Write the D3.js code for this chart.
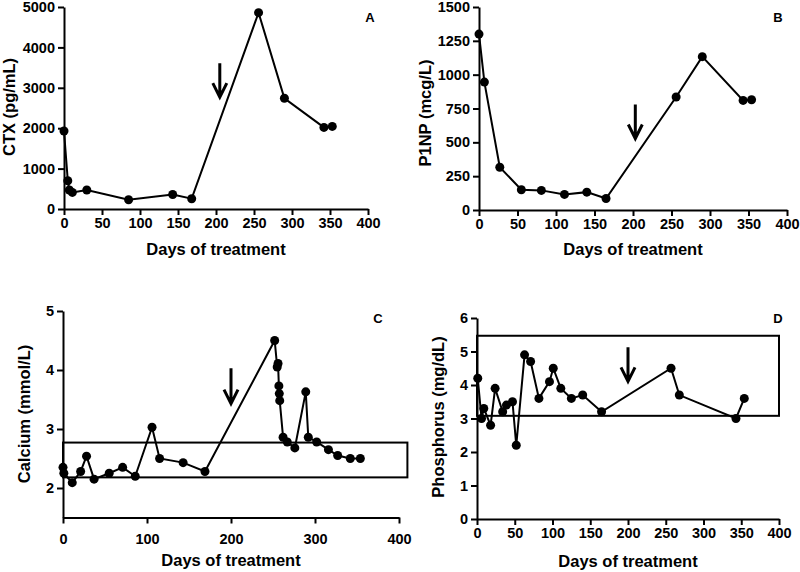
<!DOCTYPE html>
<html>
<head>
<meta charset="utf-8">
<script src="https://cdn.jsdelivr.net/npm/d3@7"></script>
<style>
  html, body { margin: 0; padding: 0; background: #fff; }
  svg text { font-family: "Liberation Sans", Arial, sans-serif; font-weight: bold; fill: #000; }
</style>
</head>
<body>
<svg id="chart" width="800" height="572"></svg>
<script>
// ---- Data ----
const ctxDays   = [0, 5, 7, 11, 30, 85, 143, 168, 256, 290, 342, 353];
const ctxValues = [1930, 700, 470, 410, 470, 230, 360, 255, 4860, 2740, 2020, 2045];

const p1npDays   = [0, 7, 27, 55, 81, 111, 140, 165, 256, 290, 343, 354];
const p1npValues = [1300, 945, 316, 150, 145, 115, 132, 85, 835, 1133, 810, 815];

const caDays   = [0, 1, 11, 21, 28, 37, 55, 71, 86, 106, 115, 143, 169, 252, 255, 256, 257, 257.5, 258, 262, 267, 276, 289, 292, 302, 316, 327, 342, 354];
const caValues = [2.35, 2.25, 2.09, 2.28, 2.54, 2.15, 2.25, 2.35, 2.20, 3.03, 2.50, 2.43, 2.28, 4.50, 4.05, 4.11, 3.73, 3.60, 3.48, 2.86, 2.78, 2.68, 3.63, 2.86, 2.78, 2.65, 2.55, 2.50, 2.50];

const phDays   = [1, 6, 9, 18, 24, 34, 39, 47, 52, 63, 71, 82, 96, 101, 111, 125, 140, 165, 257, 268, 343, 354];
const phValues = [4.2, 3.0, 3.3, 2.8, 3.9, 3.2, 3.4, 3.5, 2.2, 4.9, 4.7, 3.6, 4.1, 4.5, 3.9, 3.6, 3.7, 3.2, 4.5, 3.7, 3.0, 3.6];

const xTicks      = [0, 50, 100, 150, 200, 250, 300, 350, 400];
const xTicksC     = [0, 100, 200, 300, 400];
const ctxTicks    = [0, 1000, 2000, 3000, 4000, 5000];
const p1npTicks   = [0, 250, 500, 750, 1000, 1250, 1500];
const caTicks     = [2, 3, 4, 5];
const phTicks     = [0, 1, 2, 3, 4, 5, 6];

// reference ranges [day0, day1, low, high]
const caRange = [0, 410, 2.18, 2.77];
const phRange = [0, 400, 3.08, 5.47];

// arrows [day, top value, tip value]
const ctxArrow  = [205, 3610, 2770];
const p1npArrow = [203, 780, 528];
const caArrow   = [200, 4.03, 3.43];
const phArrow   = [200, 5.13, 4.11];

const svg = d3.select("#chart");

function panel(cfg) {
  const x = d3.scaleLinear().domain([0, 400]).range(cfg.xRange);
  const y = d3.scaleLinear().domain(cfg.yDomain).range(cfg.yRange);
  const g = svg.append("g");

  // reference box
  if (cfg.box) {
    g.append("rect")
      .attr("x", x(cfg.box[0]))
      .attr("y", y(cfg.box[3]))
      .attr("width", x(cfg.box[1]) - x(cfg.box[0]))
      .attr("height", y(cfg.box[2]) - y(cfg.box[3]))
      .attr("fill", "none").attr("stroke", "#000").attr("stroke-width", 2);
  }

  // axes
  const fmt = d => String(d);
  const yAxis = g.append("g")
    .attr("transform", `translate(${cfg.xRange[0]},0)`)
    .call(d3.axisLeft(y).tickValues(cfg.yTicks).tickFormat(fmt).tickSize(6).tickPadding(3).tickSizeOuter(0));
  const xAxis = g.append("g")
    .attr("transform", `translate(0,${cfg.yRange[0]})`)
    .call(d3.axisBottom(x).tickValues(cfg.xTicks).tickFormat(fmt).tickSize(6).tickPadding(cfg.xPad || 3).tickSizeOuter(0));
  [yAxis, xAxis].forEach(a => {
    a.attr("font-family", null).attr("font-size", null);
    a.select(".domain").attr("stroke", "#000").attr("stroke-width", 2);
    a.selectAll(".tick line").attr("stroke", "#000").attr("stroke-width", 2);
    a.selectAll(".tick text")
      .style("font-size", "14.5px")
      .style("font-weight", "bold")
      .style("font-family", "'Liberation Sans', Arial, sans-serif")
      .attr("fill", "#000");
  });

  // line + points
  const pts = cfg.days.map((d, i) => [d, cfg.values[i]]);
  g.append("path")
    .datum(pts)
    .attr("fill", "none").attr("stroke", "#000").attr("stroke-width", 2)
    .attr("d", d3.line().x(d => x(d[0])).y(d => y(d[1])));
  g.selectAll("circle.pt").data(pts).join("circle")
    .attr("class", "pt")
    .attr("cx", d => x(d[0])).attr("cy", d => y(d[1]))
    .attr("r", 4.5).attr("fill", "#000");

  // arrow
  const ax = x(cfg.arrow[0]), ay0 = y(cfg.arrow[1]), ay1 = y(cfg.arrow[2]);
  g.append("path")
    .attr("d", `M${ax},${ay0}L${ax},${ay1 - 1}M${ax - 7},${ay1 - 14}L${ax},${ay1}L${ax + 7},${ay1 - 14}`)
    .attr("fill", "none").attr("stroke", "#000").attr("stroke-width", 3);

  // titles
  g.append("text")
    .attr("x", (cfg.xRange[0] + cfg.xRange[1]) / 2)
    .attr("y", cfg.xTitleY)
    .attr("text-anchor", "middle")
    .style("font-size", "16.5px")
    .text("Days of treatment");
  g.append("text")
    .attr("transform", `translate(${cfg.yTitleX},${cfg.yTitleCY}) rotate(-90)`)
    .attr("text-anchor", "middle")
    .style("font-size", "16.5px")
    .text(cfg.yTitle);
  g.append("text")
    .attr("x", cfg.letterX).attr("y", cfg.letterY)
    .attr("text-anchor", "middle")
    .style("font-size", "13px")
    .text(cfg.letter);
}

panel({
  days: ctxDays, values: ctxValues,
  xRange: [64, 368], yDomain: [0, 5000], yRange: [209, 7],
  xTicks: xTicks, yTicks: ctxTicks,
  arrow: ctxArrow,
  xTitleY: 255, yTitle: "CTX (pg/mL)", yTitleX: 15, yTitleCY: 107,
  letter: "A", letterX: 370, letterY: 22
});

panel({
  days: p1npDays, values: p1npValues,
  xRange: [479, 787], yDomain: [0, 1500], yRange: [210, 7],
  xTicks: xTicks, yTicks: p1npTicks,
  arrow: p1npArrow,
  xTitleY: 255, yTitle: "P1NP (mcg/L)", yTitleX: 431, yTitleCY: 113,
  letter: "B", letterX: 778, letterY: 22
});

panel({
  days: caDays, values: caValues,
  xRange: [63, 399], yDomain: [1.5, 5], yRange: [517.5, 311],
  xTicks: xTicksC, yTicks: caTicks, xPad: 10,
  box: caRange,
  arrow: caArrow,
  xTitleY: 566, yTitle: "Calcium (mmol/L)", yTitleX: 30, yTitleCY: 414,
  letter: "C", letterX: 378, letterY: 323
});

panel({
  days: phDays, values: phValues,
  xRange: [477, 779], yDomain: [0, 6], yRange: [519, 318],
  xTicks: xTicks, yTicks: phTicks,
  box: phRange,
  arrow: phArrow,
  xTitleY: 567, yTitle: "Phosphorus (mg/dL)", yTitleX: 444, yTitleCY: 417,
  letter: "D", letterX: 778, letterY: 323
});
</script>
</body>
</html>
